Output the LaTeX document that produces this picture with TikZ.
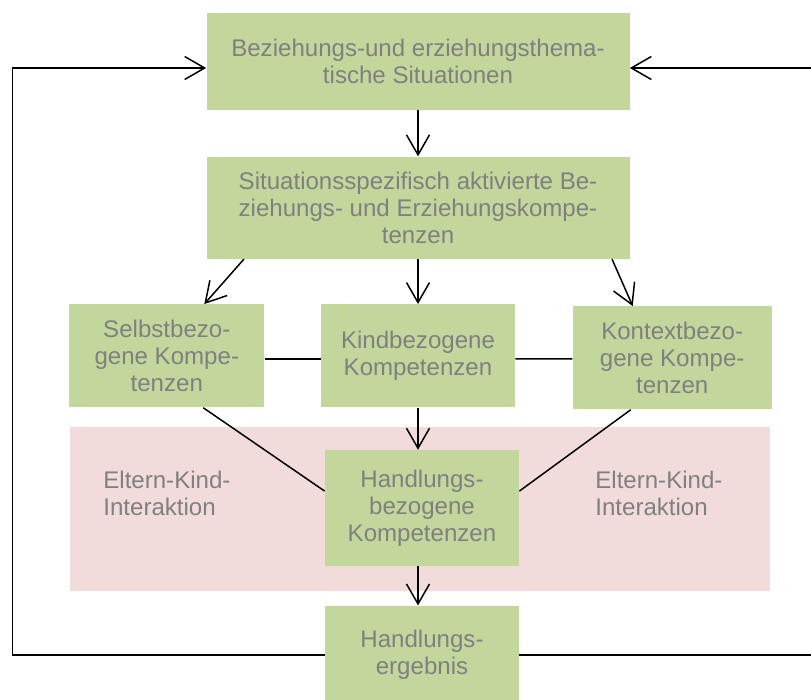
\documentclass[tikz,border=0pt]{standalone}
\usepackage{fontspec}
\setmainfont{Liberation Sans}
\usepackage{xcolor}
\usetikzlibrary{positioning, arrows.meta}

\definecolor{kompgreen}{HTML}{C3D69B}
\definecolor{bandrose}{HTML}{F2DCDB}
\definecolor{labelgray}{HTML}{808080}

\begin{document}
\begin{tikzpicture}[
  x=0.2mm, y=-0.2mm,
  font=\fontsize{13.7}{15.4}\selectfont,
  >={Straight Barb[length=4mm, width=4.6mm]},
  every node/.style={align=center, inner sep=0pt, text=labelgray},
  komp/.style ={fill=kompgreen, minimum width=38.8mm, minimum height=20.6mm},
  wide/.style ={komp, minimum width=84.6mm},
  band/.style ={fill=bandrose, minimum width=140mm, minimum height=32.8mm},
  arr/.style  ={->, line width=0.85pt},
  link/.style ={line width=0.85pt},
]
\useasboundingbox (0,0) rectangle (811,700);
\clip (0,0) rectangle (811,700);

% ---- Background: interaction band -----------------------------------------
\node[band] (band) at (420,509) {};

% ---- Top: situations and activated competences ----------------------------
\node[wide, minimum height=19.4mm]             (thema)   at (418,61.5)
  {Beziehungs-und erziehungsthema-\\tische Situationen};
\node[wide, minimum height=20.4mm, below=9.2mm of thema] (aktiv)
  {Situationsspezifisch aktivierte Be-\\ziehungs- und Erziehungskompe-\\tenzen};

% ---- Middle row: three kinds of competences -------------------------------
\node[komp, below=9mm of aktiv]                (kind)    {Kindbezogene\\Kompetenzen};
\node[komp, minimum width=39mm, left=11.2mm of kind]     (selbst)
  {Selbstbezo-\\gene Kompe-\\tenzen};
\node[komp, minimum width=39.8mm, right=11.4mm of kind, yshift=-0.4mm] (kontext)
  {Kontextbezo-\\gene Kompe-\\tenzen};

% ---- Band row: action-related competences and result ----------------------
\node[komp, minimum height=23.2mm, below=8.4mm of kind, xshift=0.8mm] (handl)
  {Handlungs-\\bezogene\\Kompetenzen};
\node[komp, minimum height=19.6mm, below=7.8mm of handl] (ergeb)
  {Handlungs-\\ergebnis};
\node[anchor=west, align=left] (ekleft)  at (103,493) {Eltern-Kind-\\Interaktion};
\node[anchor=west, align=left] (ekright) at (595,493) {Eltern-Kind-\\Interaktion};

% Top-down flow
\draw[arr] (thema) -- (aktiv);
\draw[arr] ([xshift=-34.8mm]aktiv.south) -- ([xshift=7.5mm]selbst.north);
\draw[arr] (aktiv) -- (kind);
\draw[arr] ([xshift=38.8mm]aktiv.south) -- ([xshift=-7.9mm]kontext.north);

% Links between the three competences
\draw[link] ([yshift=-0.6mm]selbst.east) -- ([yshift=-0.6mm]kind.west);
\draw[link] ([yshift=-0.6mm]kind.east)   -- ([yshift=-0.2mm]kontext.west);

% Into the action-related box and on to the result
\draw[arr]  (kind.south) -- (kind.south |- handl.north);
\draw[link] ([xshift=7.3mm]selbst.south)   -- ([yshift=3.4mm]handl.west);
\draw[link] ([xshift=-8.3mm]kontext.south) -- ([yshift=3.4mm]handl.east);
\draw[arr]  (kind.south |- handl.south) -- (kind.south |- ergeb.north);

% Feedback loops back to the situations
\draw[arr] (ergeb.west) -- ++(-312,0) |- ([yshift=-1.3mm]thema.west);
\draw[arr] (ergeb.east) -- ++(320,0)  |- ([yshift=-1.3mm]thema.east);
\end{tikzpicture}
\end{document}
